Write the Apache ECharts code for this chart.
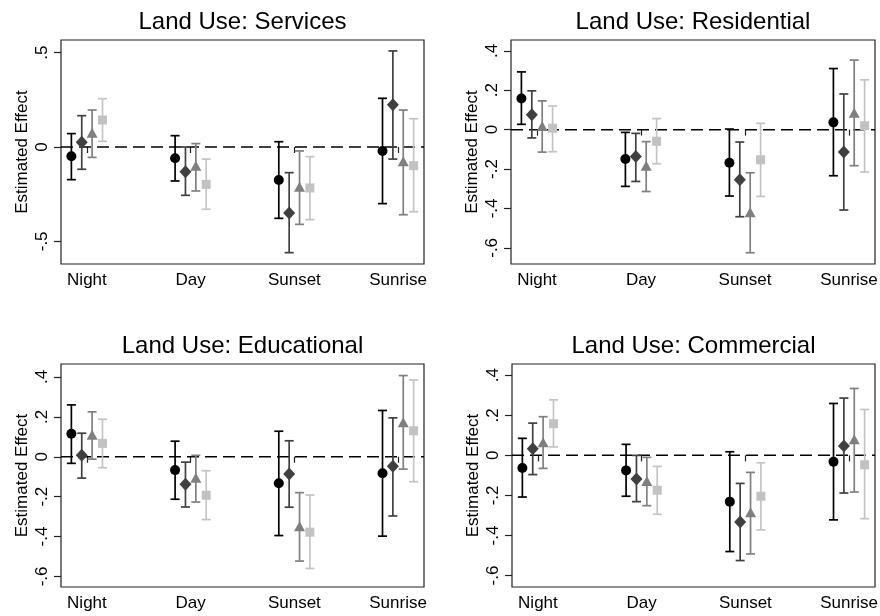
<!DOCTYPE html>
<html>
<head>
<meta charset="utf-8">
<script src="https://cdn.jsdelivr.net/npm/echarts@6/dist/echarts.min.js"></script>
<style>
html,body{margin:0;padding:0;background:#fff;}
#chart{width:880px;height:616px;}
</style>
</head>
<body>
<div id="chart"></div>
<script>
// ---------- DATA ----------
const X_CATS = ['Night', 'Day', 'Sunset', 'Sunrise'];
const X_POS = [1, 2, 3, 4];
const DODGE = [-0.15, -0.05, 0.05, 0.15];

const PANEL_TITLES = ['Land Use: Services', 'Land Use: Residential', 'Land Use: Educational', 'Land Use: Commercial'];
const SVC_TICKS = [-0.5, 0, 0.5];
const OTHER_TICKS = [-0.6, -0.4, -0.2, 0, 0.2, 0.4];

// Services
const SVC_EST_1 = [-0.049, -0.060, -0.175, -0.021];
const SVC_LO_1  = [-0.173, -0.180, -0.378, -0.300];
const SVC_HI_1  = [0.071, 0.060, 0.028, 0.258];
const SVC_EST_2 = [0.025, -0.131, -0.350, 0.224];
const SVC_LO_2  = [-0.118, -0.256, -0.560, -0.064];
const SVC_HI_2  = [0.166, 0.000, -0.136, 0.509];
const SVC_EST_3 = [0.076, -0.099, -0.210, -0.076];
const SVC_LO_3  = [-0.055, -0.233, -0.410, -0.359];
const SVC_HI_3  = [0.196, 0.018, -0.021, 0.196];
const SVC_EST_4 = [0.143, -0.198, -0.217, -0.099];
const SVC_LO_4  = [0.030, -0.330, -0.385, -0.343];
const SVC_HI_4  = [0.256, -0.064, -0.051, 0.150];

// Residential
const RES_EST_1 = [0.158, -0.149, -0.168, 0.037];
const RES_LO_1  = [0.027, -0.288, -0.337, -0.234];
const RES_HI_1  = [0.293, -0.014, 0.003, 0.310];
const RES_EST_2 = [0.076, -0.136, -0.254, -0.114];
const RES_LO_2  = [-0.042, -0.263, -0.442, -0.408];
const RES_HI_2  = [0.197, -0.019, -0.063, 0.181];
const RES_EST_3 = [0.019, -0.183, -0.419, 0.086];
const RES_LO_3  = [-0.114, -0.314, -0.625, -0.183];
const RES_HI_3  = [0.146, -0.061, -0.219, 0.353];
const RES_EST_4 = [0.007, -0.059, -0.153, 0.020];
const RES_LO_4  = [-0.112, -0.173, -0.339, -0.215];
const RES_HI_4  = [0.120, 0.056, 0.032, 0.253];

// Educational
const EDU_EST_1 = [0.115, -0.067, -0.133, -0.083];
const EDU_LO_1  = [-0.033, -0.213, -0.395, -0.398];
const EDU_HI_1  = [0.260, 0.078, 0.128, 0.232];
const EDU_EST_2 = [0.007, -0.138, -0.087, -0.048];
const EDU_LO_2  = [-0.107, -0.252, -0.253, -0.297];
const EDU_HI_2  = [0.118, -0.027, 0.080, 0.195];
const EDU_EST_3 = [0.110, -0.105, -0.348, 0.173];
const EDU_LO_3  = [-0.012, -0.227, -0.523, -0.062];
const EDU_HI_3  = [0.225, 0.007, -0.180, 0.407];
const EDU_EST_4 = [0.067, -0.193, -0.378, 0.130];
const EDU_LO_4  = [-0.055, -0.315, -0.560, -0.125];
const EDU_HI_4  = [0.188, -0.070, -0.192, 0.385];

// Commercial
const COM_EST_1 = [-0.063, -0.075, -0.231, -0.032];
const COM_LO_1  = [-0.208, -0.204, -0.480, -0.322];
const COM_HI_1  = [0.085, 0.055, 0.018, 0.259];
const COM_EST_2 = [0.033, -0.118, -0.332, 0.047];
const COM_LO_2  = [-0.096, -0.231, -0.525, -0.188];
const COM_HI_2  = [0.161, 0.000, -0.140, 0.286];
const COM_EST_3 = [0.066, -0.128, -0.284, 0.080];
const COM_LO_3  = [-0.065, -0.251, -0.492, -0.183];
const COM_HI_3  = [0.193, -0.010, -0.085, 0.334];
const COM_EST_4 = [0.158, -0.174, -0.204, -0.047];
const COM_LO_4  = [0.042, -0.294, -0.372, -0.316];
const COM_HI_4  = [0.277, -0.055, -0.037, 0.229];

// ---------- BUILD ----------
const panels = [
  { est: [SVC_EST_1, SVC_EST_2, SVC_EST_3, SVC_EST_4], lo: [SVC_LO_1, SVC_LO_2, SVC_LO_3, SVC_LO_4], hi: [SVC_HI_1, SVC_HI_2, SVC_HI_3, SVC_HI_4], ticks: SVC_TICKS, ymin: -0.62, ymax: 0.567 },
  { est: [RES_EST_1, RES_EST_2, RES_EST_3, RES_EST_4], lo: [RES_LO_1, RES_LO_2, RES_LO_3, RES_LO_4], hi: [RES_HI_1, RES_HI_2, RES_HI_3, RES_HI_4], ticks: OTHER_TICKS, ymin: -0.682, ymax: 0.455 },
  { est: [EDU_EST_1, EDU_EST_2, EDU_EST_3, EDU_EST_4], lo: [EDU_LO_1, EDU_LO_2, EDU_LO_3, EDU_LO_4], hi: [EDU_HI_1, EDU_HI_2, EDU_HI_3, EDU_HI_4], ticks: OTHER_TICKS, ymin: -0.653, ymax: 0.465 },
  { est: [COM_EST_1, COM_EST_2, COM_EST_3, COM_EST_4], lo: [COM_LO_1, COM_LO_2, COM_LO_3, COM_LO_4], hi: [COM_HI_1, COM_HI_2, COM_HI_3, COM_HI_4], ticks: OTHER_TICKS, ymin: -0.657, ymax: 0.456 }
];

const grids = [
  { left: 61, top: 40, width: 363, height: 224 },
  { left: 511, top: 40, width: 364, height: 224 },
  { left: 61, top: 364, width: 363, height: 223 },
  { left: 512, top: 364, width: 363, height: 223 }
];
const titleY = [22.5, 22.5, 346, 346];

const FONT = 'Liberation Sans, Arial, Helvetica, sans-serif';
const MARKER_COLORS = ['#000000', '#404040', '#7f7f7f', '#c2c2c2'];
const BAR_COLORS = ['#000000', '#404040', '#808080', '#c4c4c4'];
const SYMBOLS = ['circle', 'diamond', 'triangle', 'rect'];
const SYMBOL_SIZES = [10, [12, 13], [11, 10], 9];

function stataTick(v) {
  if (Math.abs(v) < 1e-9) return '0';
  const s = String(Math.abs(+v.toFixed(3))).replace(/^0/, '');
  return (v < 0 ? '-' : '') + s;
}

const option = {
  animation: false,
  backgroundColor: '#ffffff',
  grid: grids.map(g => Object.assign({
    show: true, borderColor: '#222', borderWidth: 1.2, backgroundColor: '#fff', containLabel: false, outerBoundsMode: 'none'
  }, g)),
  xAxis: [],
  yAxis: [],
  series: [],
  graphic: []
};

panels.forEach((p, gi) => {
  option.xAxis.push({
    type: 'value', gridIndex: gi, min: 0.75, max: 4.25,
    axisLine: { show: false },
    splitLine: { show: false },
    axisTick: { show: true, length: 6, inside: false, customValues: X_POS, lineStyle: { color: '#222', width: 1.2 } },
    axisLabel: {
      show: true, customValues: X_POS, margin: 8, color: '#000', fontSize: 17, fontFamily: FONT,
      formatter: v => X_CATS[Math.round(v) - 1] || ''
    }
  });
  option.yAxis.push({
    type: 'value', gridIndex: gi, min: p.ymin, max: p.ymax,
    name: 'Estimated Effect', nameLocation: 'middle', nameGap: 30, nameMoveOverlap: false,
    nameTextStyle: { color: '#000', fontSize: 17, fontFamily: FONT },
    axisLine: { show: false },
    splitLine: { show: false },
    axisTick: { show: true, length: 7, inside: false, customValues: p.ticks, lineStyle: { color: '#222', width: 1.2 } },
    axisLabel: {
      show: true, customValues: p.ticks, rotate: 90, margin: 10, color: '#000', fontSize: 17, fontFamily: FONT,
      formatter: v => stataTick(v)
    }
  });

  // dashed zero line
  option.series.push({
    type: 'line', xAxisIndex: gi, yAxisIndex: gi, z: 1,
    data: [[0.75, 0], [4.25, 0]], symbol: 'none', silent: true,
    lineStyle: { color: '#000', width: 1.5, type: [12, 6] }
  });

  for (let s = 0; s < 4; s++) {
    const barData = X_POS.map((x, i) => [x + DODGE[s], p.lo[s][i], p.hi[s][i]]);
    const col = BAR_COLORS[s];
    option.series.push({
      type: 'custom', xAxisIndex: gi, yAxisIndex: gi, z: 2, silent: true,
      encode: { x: 0, y: [1, 2] },
      data: barData,
      renderItem: (params, api) => {
        const x = api.value(0), lo = api.value(1), hi = api.value(2);
        const a = api.coord([x, lo]), b = api.coord([x, hi]);
        const w = 4.5;
        const st = { stroke: col, lineWidth: 1.7 };
        return {
          type: 'group',
          children: [
            { type: 'line', shape: { x1: a[0], y1: a[1], x2: b[0], y2: b[1] }, style: st },
            { type: 'line', shape: { x1: a[0] - w, y1: a[1], x2: a[0] + w, y2: a[1] }, style: st },
            { type: 'line', shape: { x1: b[0] - w, y1: b[1], x2: b[0] + w, y2: b[1] }, style: st }
          ]
        };
      }
    });
    option.series.push({
      type: 'scatter', xAxisIndex: gi, yAxisIndex: gi, z: 3, silent: true,
      symbol: SYMBOLS[s], symbolSize: SYMBOL_SIZES[s],
      itemStyle: { color: MARKER_COLORS[s], opacity: 1 },
      data: X_POS.map((x, i) => [x + DODGE[s], p.est[s][i]])
    });
  }

  const g = grids[gi];
  option.graphic.push({
    type: 'text', x: g.left + g.width / 2, y: titleY[gi], silent: true,
    style: { text: PANEL_TITLES[gi], fill: '#000', font: '24px ' + FONT, align: 'center', verticalAlign: 'middle' }
  });
});

const chart = echarts.init(document.getElementById('chart'), null, { renderer: 'canvas' });
chart.setOption(option);
</script>
</body>
</html>
